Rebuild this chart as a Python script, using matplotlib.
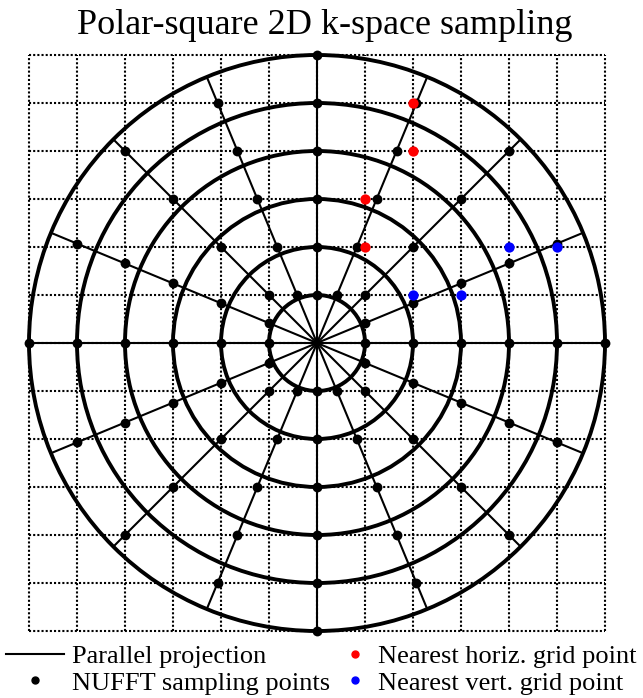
import matplotlib
import numpy as np

matplotlib.use("Agg")
import matplotlib.pyplot as plt
from matplotlib.lines import Line2D

# Geometry of the sampling pattern (grid units)
GRID_TICKS = list(range(-6, 7))
RING_RADII = [1, 2, 3, 4, 5, 6]
LINE_ANGLES_DEG = [0, 22.5, 45, 67.5, 90, 112.5, 135, 157.5]
MAX_RADIUS = 6

# Grid points nearest to the samples on the 67.5 and 22.5 degree lines
HORIZ_NEAREST_X = [1, 1, 2, 2]
HORIZ_NEAREST_Y = [2, 3, 4, 5]
VERT_NEAREST_X = [2, 3, 4, 5]
VERT_NEAREST_Y = [1, 1, 2, 2]

TITLE = "Polar-square 2D k-space sampling"
LEGEND_LEFT = ["Parallel projection", "NUFFT sampling points"]
LEGEND_RIGHT = ["Nearest horiz. grid point", "Nearest vert. grid point"]

plt.rcParams["font.family"] = ["Liberation Serif", "DejaVu Serif"]


def sampling_points(angle_deg):
    """Samples where a diameter crosses the integer grid lines (square rings)."""
    th = np.deg2rad(angle_deg)
    d = np.array([np.cos(th), np.sin(th)])
    scale = max(abs(d[0]), abs(d[1]))
    pts = []
    for k in range(1, MAX_RADIUS + 1):
        t = k / scale
        if t <= MAX_RADIUS + 1e-9:
            pts.append(t * d)
            pts.append(-t * d)
    return pts


fig = plt.figure(figsize=(6.43, 6.98), dpi=100)
ax = fig.add_axes([29 / 643, 1 - 631 / 698, 576 / 643, 576 / 698])
ax.set_xlim(GRID_TICKS[0], GRID_TICKS[-1])
ax.set_ylim(GRID_TICKS[0], GRID_TICKS[-1])
ax.set_aspect("equal")
ax.axis("off")

# dotted Cartesian grid
lo, hi = GRID_TICKS[0], GRID_TICKS[-1]
for v in GRID_TICKS:
    ax.plot([v, v], [lo, hi], color="black", lw=1.5, ls=(0, (1, 1)),
            zorder=1, clip_on=False)
    ax.plot([lo, hi], [v, v], color="black", lw=1.5, ls=(0, (1, 1)),
            zorder=1, clip_on=False)

# concentric rings
for r in RING_RADII:
    ax.add_patch(plt.Circle((0, 0), r, fill=False, color="black", lw=2.8,
                            zorder=2, clip_on=False))

# projection lines (diameters)
for a in LINE_ANGLES_DEG:
    th = np.deg2rad(a)
    c, s = np.cos(th), np.sin(th)
    ax.plot([-MAX_RADIUS * c, MAX_RADIUS * c], [-MAX_RADIUS * s, MAX_RADIUS * s],
            color="black", lw=1.5, zorder=3, clip_on=False)

# NUFFT samples
pts = np.array([p for a in LINE_ANGLES_DEG for p in sampling_points(a)])
ax.scatter(pts[:, 0], pts[:, 1], s=50, color="black", lw=0, zorder=4,
           clip_on=False)

# nearest grid points, on top of the samples
ax.scatter(HORIZ_NEAREST_X, HORIZ_NEAREST_Y, s=55, color="red", lw=0,
           zorder=5, clip_on=False)
ax.scatter(VERT_NEAREST_X, VERT_NEAREST_Y, s=55, color="blue", lw=0,
           zorder=5, clip_on=False)

fig.text(0.505, 1 - 25 / 698, TITLE, ha="center", va="center", fontsize=26)

left_handles = [
    Line2D([], [], color="black", lw=1.5),
    Line2D([], [], color="black", marker="o", ls="none", markersize=5),
]
right_handles = [
    Line2D([], [], color="red", marker="o", ls="none", markersize=5),
    Line2D([], [], color="blue", marker="o", ls="none", markersize=5),
]
common = dict(frameon=False, fontsize=19, borderpad=0, borderaxespad=0,
              labelspacing=0.1, loc="upper left")
fig.legend(left_handles, LEGEND_LEFT, bbox_to_anchor=(6 / 643, 1 - 645 / 698),
           handlelength=2.2, handletextpad=0.3, **common)
fig.legend(right_handles, LEGEND_RIGHT, bbox_to_anchor=(342 / 643, 1 - 645 / 698),
           handlelength=1.0, handletextpad=0.35, **common)

fig.savefig("out.png", dpi=100)
